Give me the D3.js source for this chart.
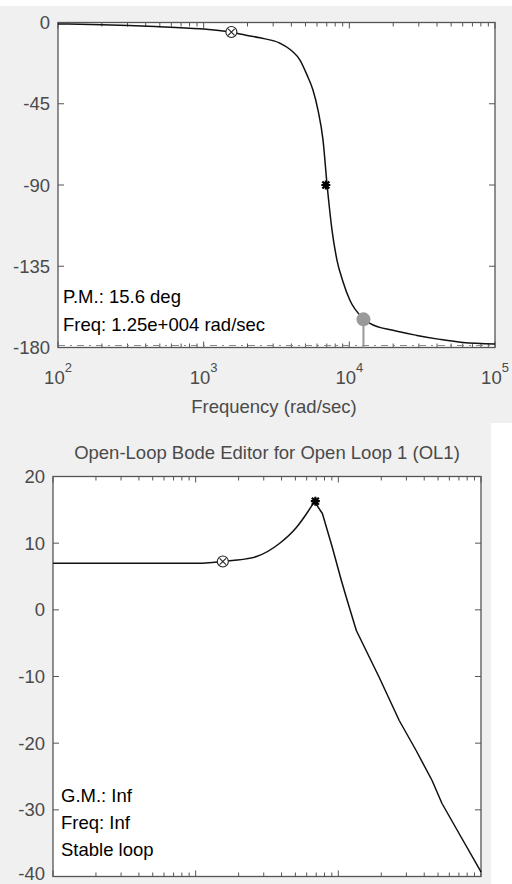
<!DOCTYPE html>
<html><head><meta charset="utf-8">
<script src="https://cdn.jsdelivr.net/npm/d3@7"></script>
<style>
html,body{margin:0;padding:0;background:#fff;}
svg{display:block;font-family:Arial,"Liberation Sans",sans-serif;}
</style></head>
<body>
<svg id="c" width="512" height="884"></svg>
<script>
// ---- Data ----
const phaseFreq = [100, 200, 464, 944, 1517, 1923, 2438, 3344, 4040, 4583, 5118, 5627, 6093, 6595, 7029, 7605, 8229, 9000, 10110, 12220, 13860, 19940, 29130, 41860, 60230, 100000];
const phaseDeg  = [-0.8, -1.2, -2.2, -3.5, -5.3, -6.9, -8.5, -11.5, -15.8, -20.8, -29, -37.4, -48.5, -65, -89.6, -115, -131.7, -143, -154, -163.3, -166.6, -170.5, -173.3, -175.5, -177.2, -178];
const magFreq = [100, 1120, 1545, 1815, 2672, 3864, 5080, 6065, 6790, 7730, 9080, 10500, 11380, 13370, 19360, 26720, 35100, 45400, 53300, 70200, 100000];
const magDb   = [7.0, 7.0, 7.25, 7.4, 8.0, 9.95, 12.35, 14.6, 16.25, 14.45, 9.35, 4.4, 1.85, -3.1, -10.15, -16.6, -21.1, -25.6, -29.05, -33.55, -39.3];
const phaseTicks = [0, -45, -90, -135, -180];
const magTicks = [20, 10, 0, -10, -20, -30, -40];
const decadeExps = [2, 3, 4, 5];
const circleMarker = {freq: 1550, phase: -5.3, mag: 7.25};
const starMarker = {freq: 6900, phase: -90, mag: 16.3};
const pmMarker = {freq: 12500, phase: -164.4};
const phaseText = ["P.M.: 15.6 deg", "Freq: 1.25e+004 rad/sec"];
const magText = ["G.M.: Inf", "Freq: Inf", "Stable loop"];
const titleText = "Open-Loop Bode Editor for Open Loop 1 (OL1)";
const xLabel = "Frequency (rad/sec)";

const svg = d3.select("#c");
const FONT = 18.5;
const GREY = "#4a4a4a";

// backgrounds
svg.append("rect").attr("x",0).attr("y",6).attr("width",512).attr("height",417).attr("fill","#f0f0f0");
svg.append("rect").attr("x",0).attr("y",423).attr("width",491).attr("height",461).attr("fill","#f0f0f0");

function minorTicks(){
  const t=[];
  for(let e=2;e<5;e++) for(let m=1;m<10;m++) t.push(m*Math.pow(10,e));
  t.push(1e5);
  return t;
}

function drawPanel(box, yDomain, yTicks){
  const x = d3.scaleLog().domain([1e2,1e5]).range([box.l, box.r]);
  const y = d3.scaleLinear().domain(yDomain).range([box.b, box.t]);
  const g = svg.append("g");
  g.append("rect").attr("x",box.l).attr("y",box.t).attr("width",box.r-box.l).attr("height",box.b-box.t).attr("fill","#fff");
  const xt = minorTicks();
  xt.forEach(v=>{
    const major = decadeExps.some(e=>Math.abs(v-Math.pow(10,e))<1e-6);
    const len = major?6:4;
    g.append("line").attr("x1",x(v)).attr("x2",x(v)).attr("y1",box.t).attr("y2",box.t+len).attr("stroke","#555").attr("stroke-width",1);
    g.append("line").attr("x1",x(v)).attr("x2",x(v)).attr("y1",box.b).attr("y2",box.b-len).attr("stroke","#555").attr("stroke-width",1);
  });
  yTicks.forEach(v=>{
    g.append("line").attr("x1",box.l).attr("x2",box.l+6).attr("y1",y(v)).attr("y2",y(v)).attr("stroke","#555");
    g.append("line").attr("x1",box.r).attr("x2",box.r-6).attr("y1",y(v)).attr("y2",y(v)).attr("stroke","#555");
    g.append("text").attr("x",box.l-8).attr("y",Math.min(y(v)+6.5, 879.5)).attr("text-anchor","end")
      .attr("font-size",FONT).attr("fill",GREY).text(v);
  });
  return {x,y,g};
}

// ---- Phase panel ----
const P = drawPanel({l:58,r:495,t:22.5,b:347.5}, [-180,0], phaseTicks);
P.g.append("line").attr("x1",58).attr("x2",495).attr("y1",P.y(-180)-2).attr("y2",P.y(-180)-2)
  .attr("stroke","#8a8a8a").attr("stroke-width",1.2).attr("stroke-dasharray","7,5,2,5");
P.g.append("rect").attr("x",58).attr("y",22.5).attr("width",437).attr("height",325).attr("fill","none").attr("stroke","#555").attr("stroke-width",1.3);
P.g.append("path").datum(phaseFreq.map((f,i)=>[f,phaseDeg[i]]))
  .attr("d", d3.line().x(d=>P.x(d[0])).y(d=>P.y(d[1])).curve(d3.curveMonotoneX))
  .attr("fill","none").attr("stroke","#111").attr("stroke-width",1.5);
P.g.append("line").attr("x1",P.x(pmMarker.freq)).attr("x2",P.x(pmMarker.freq)).attr("y1",P.y(pmMarker.phase)).attr("y2",P.y(-180))
  .attr("stroke","#999").attr("stroke-width",2);
P.g.append("circle").attr("cx",P.x(pmMarker.freq)).attr("cy",P.y(pmMarker.phase)).attr("r",7).attr("fill","#9a9a9a");

function circleX(g,cx,cy){
  g.append("circle").attr("cx",cx).attr("cy",cy).attr("r",5.5).attr("fill","#fff").attr("stroke","#222").attr("stroke-width",1.1);
  const d=3.2;
  g.append("path").attr("d",`M${cx-d},${cy-d}L${cx+d},${cy+d}M${cx-d},${cy+d}L${cx+d},${cy-d}`).attr("stroke","#222").attr("stroke-width",1.1);
}
function star(g,cx,cy){
  const d=3.5;
  g.append("path").attr("d",`M${cx-d},${cy-d}L${cx+d},${cy+d}M${cx-d},${cy+d}L${cx+d},${cy-d}M${cx},${cy-d-1}L${cx},${cy+d+1}M${cx-d-1},${cy}L${cx+d+1},${cy}`)
    .attr("stroke","#000").attr("stroke-width",2.2);
}
circleX(P.g, P.x(circleMarker.freq), P.y(circleMarker.phase));
star(P.g, P.x(starMarker.freq), P.y(starMarker.phase));

phaseText.forEach((t,i)=>{
  P.g.append("text").attr("x",63).attr("y",303+i*28).attr("font-size",FONT).attr("fill","#000").text(t);
});

decadeExps.forEach(e=>{
  const t = svg.append("text").attr("x",P.x(Math.pow(10,e))).attr("y",384).attr("text-anchor","middle")
    .attr("font-size",FONT).attr("fill",GREY);
  t.append("tspan").text("10");
  t.append("tspan").attr("dy",-12).attr("font-size",13).text(e);
});
svg.append("text").attr("x",274).attr("y",413).attr("text-anchor","middle").attr("font-size",FONT).attr("fill",GREY).text(xLabel);

// ---- Magnitude panel ----
svg.append("text").attr("x",267).attr("y",459).attr("text-anchor","middle").attr("font-size",FONT).attr("fill",GREY).text(titleText);
const M = drawPanel({l:53,r:481,t:476.5,b:876.5}, [-40,20], magTicks);
M.g.append("rect").attr("x",53).attr("y",476.5).attr("width",428).attr("height",400).attr("fill","none").attr("stroke","#555").attr("stroke-width",1.3);
const magPts = magFreq.map((f,i)=>[f,magDb[i]]);
const peakIdx = magDb.indexOf(d3.max(magDb));
const magRise = d3.line().x(d=>M.x(d[0])).y(d=>M.y(d[1])).curve(d3.curveMonotoneX);
const magFall = d3.line().x(d=>M.x(d[0])).y(d=>M.y(d[1]));
M.g.append("path").datum(magPts.slice(0,peakIdx+1)).attr("d", magRise)
  .attr("fill","none").attr("stroke","#111").attr("stroke-width",1.5);
M.g.append("path").datum(magPts.slice(peakIdx)).attr("d", magFall)
  .attr("fill","none").attr("stroke","#111").attr("stroke-width",1.5).attr("stroke-linejoin","round");
circleX(M.g, M.x(circleMarker.freq), M.y(circleMarker.mag));
star(M.g, M.x(starMarker.freq), M.y(starMarker.mag));
magText.forEach((t,i)=>{
  M.g.append("text").attr("x",61).attr("y",802+i*27).attr("font-size",FONT).attr("fill","#000").text(t);
});
</script>
</body></html>
